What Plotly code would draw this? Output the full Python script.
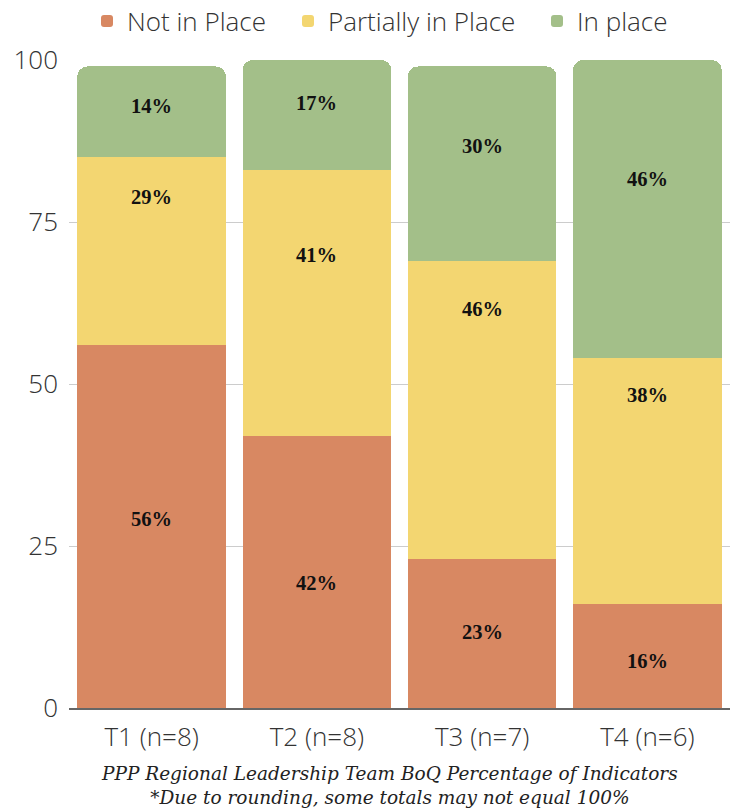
import plotly.graph_objects as go

categories = ["T1 (n=8)", "T2 (n=8)", "T3 (n=7)", "T4 (n=6)"]
not_in_place = [56, 42, 23, 16]
partially_in_place = [29, 41, 46, 38]
in_place = [14, 17, 30, 46]
y_ticks = [0, 25, 50, 75, 100]

# where each percentage label sits inside its segment (0 = bottom, 1 = top)
label_frac_not = [0.52, 0.46, 0.51, 0.45]
label_frac_partial = [0.79, 0.68, 0.84, 0.85]
label_frac_in = [0.56, 0.61, 0.59, 0.60]

# left edge of each legend entry (paper fraction)
legend_x = [(87 - 69) / 661, (288 - 69) / 661, (537 - 69) / 661]

series = [
    ("Not in Place", not_in_place, "#d88862", label_frac_not),
    ("Partially in Place", partially_in_place, "#f3d671", label_frac_partial),
    ("In place", in_place, "#a3bf89", label_frac_in),
]

legend_font = dict(family="Open Sans", size=26, color="#333333", weight=300)
tick_font = dict(family="Open Sans", size=26, color="#333333", weight=300)

fig = go.Figure()
base = [0] * len(categories)
legend_layout = {}
for i, (name, values, color, fracs) in enumerate(series):
    legend_id = "legend" if i == 0 else f"legend{i + 1}"
    fig.add_trace(go.Bar(
        x=categories,
        y=values,
        name=name,
        legend=legend_id,
        showlegend=True,
        marker=dict(color=color, line=dict(width=0)),
        hoverinfo="x+y+name",
    ))
    legend_layout[legend_id] = dict(
        visible=True,
        orientation="h",
        x=legend_x[i], xanchor="left",
        yref="container", y=1 - 21 / 808, yanchor="middle",
        font=legend_font,
        bgcolor="rgba(0,0,0,0)",
    )
    for cat, b, v, f in zip(categories, base, values, fracs):
        fig.add_annotation(
            x=cat, y=b + v * f,
            text=f"<b>{v}%</b>",
            showarrow=False,
            font=dict(family="Liberation Serif", size=20.5, color="#111111"),
        )
    base = [b + v for b, v in zip(base, values)]

fig.update_layout(
    width=730,
    height=808,
    showlegend=True,
    barmode="stack",
    bargap=0.1,
    barcornerradius=10,
    plot_bgcolor="white",
    paper_bgcolor="white",
    margin=dict(l=69, r=0, t=60, b=100, autoexpand=False),
    font=dict(family="Open Sans", color="#333333"),
    xaxis=dict(
        showgrid=False,
        showline=True,
        linecolor="#666666",
        linewidth=2,
        tickfont=tick_font,
        ticks="",
        ticklabelstandoff=5,
    ),
    yaxis=dict(
        range=[0, 100],
        tickvals=y_ticks,
        showgrid=True,
        gridcolor="#cccccc",
        gridwidth=1,
        zeroline=False,
        tickfont=tick_font,
        ticklabelstandoff=10,
    ),
    **legend_layout,
)

fig.add_annotation(
    text="PPP Regional Leadership Team BoQ Percentage of Indicators<br>*Due to rounding, some totals may not equal 100%",
    xref="paper", yref="paper",
    x=0.4856, y=-(761 - 708) / 648, xanchor="center", yanchor="top",
    showarrow=False,
    align="center",
    font=dict(family="DejaVu Serif", size=18.5, color="#222222", style="italic"),
)

fig.write_html("out.html")
